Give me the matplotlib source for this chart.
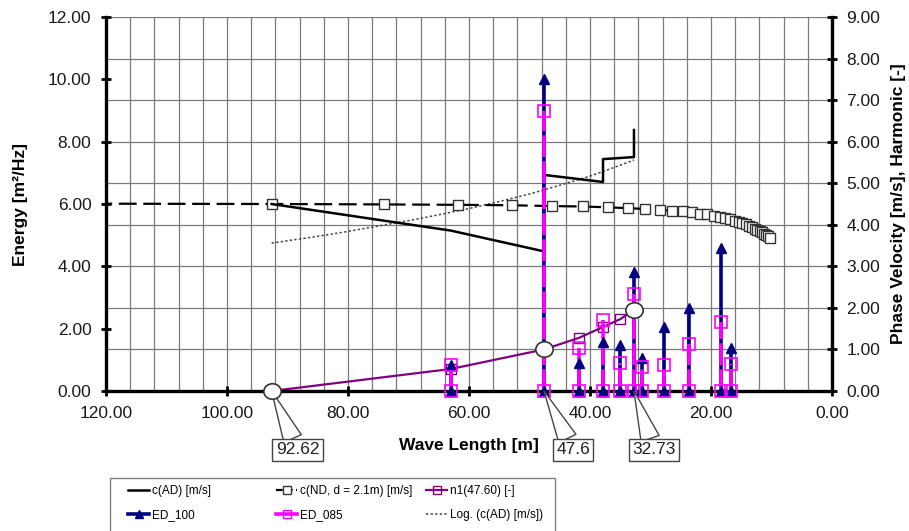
import numpy as np
import matplotlib.pyplot as plt
from matplotlib import font_manager
from matplotlib.path import Path
from matplotlib.transforms import Affine2D
from matplotlib.ticker import MultipleLocator, FormatStrFormatter
from matplotlib.lines import Line2D
from matplotlib.patches import Rectangle

plt.rcParams['font.family'] = ['Liberation Sans', 'DejaVu Sans']

# c(ND, d = 2.1m) [m/s] - right axis
L_nd = [130.0, 92.62, 74.10, 61.75, 52.93, 46.31, 41.17, 37.05, 33.68, 30.88, 28.50,
        26.46, 24.70, 23.16, 21.79, 20.58, 19.50, 18.53, 17.64, 16.84, 16.11, 15.44,
        14.82, 14.25, 13.72, 13.23, 12.78, 12.35, 11.95, 11.58, 11.23, 10.90, 10.59, 10.29]
c_nd = [4.51, 4.50, 4.49, 4.48, 4.47, 4.45, 4.44, 4.42, 4.40, 4.38, 4.36,
        4.34, 4.32, 4.30, 4.27, 4.25, 4.22, 4.19, 4.16, 4.13, 4.10, 4.07,
        4.04, 4.01, 3.98, 3.94, 3.91, 3.88, 3.85, 3.82, 3.78, 3.75, 3.72, 3.69]

# c(AD) [m/s] - right axis
L_ad = [92.62, 63.0, 47.6, 47.6, 37.85, 37.85, 32.73, 32.73]
c_ad = [4.50, 3.86, 3.36, 5.20, 5.03, 5.58, 5.63, 6.28]

# Log. (c(AD)) trend line - right axis
L_log = [92.62, 86.0, 80.0, 75.0, 70.0, 65.0, 60.0, 55.0, 50.0, 45.0, 40.0, 36.0, 32.73]
c_log = [3.56, 3.70, 3.84, 3.97, 4.10, 4.24, 4.39, 4.56, 4.74, 4.95, 5.17, 5.38, 5.56]

# n1(47.60) [-] - right axis
L_n1 = [92.62, 63.0, 47.6, 41.8, 37.85, 35.0, 32.73]
n1 = [0.0, 0.53, 1.0, 1.28, 1.54, 1.73, 1.95]
circ_idx = [0, 2, 6]
circ_labels = ['92.62', '47.6', '32.73']

# energy density spectra - left axis
L_ed = [63.0, 47.6, 41.8, 37.85, 35.0, 32.73, 31.4, 27.8, 23.6, 18.3, 16.7]
ed_100 = [0.85, 10.0, 0.90, 1.57, 1.47, 3.82, 1.06, 2.05, 2.66, 4.59, 1.38]
ed_085 = [0.84, 9.0, 1.38, 2.28, 0.90, 3.11, 0.77, 0.83, 1.51, 2.21, 0.87]

navy = '#000080'
mag = '#ff00ff'
purp = '#800080'
fs = 12.5

fig = plt.figure(figsize=(9.09, 5.31), dpi=100)
ax = fig.add_axes([106 / 909, 1 - 391 / 531, 726 / 909, 374 / 531])
ax2 = ax.twinx()
ax.set_zorder(2)
ax.patch.set_visible(False)
ax2.set_zorder(1)

ax.set_xlim(120, 0)
ax.xaxis.set_major_locator(MultipleLocator(20))
ax.xaxis.set_minor_locator(MultipleLocator(4))
ax.xaxis.set_major_formatter(FormatStrFormatter('%.2f'))

# grid lives on the lower axes
ax2.xaxis.set_visible(True)
ax2.tick_params(axis='x', which='both', bottom=False, top=False, labelbottom=False, labeltop=False)
ax2.grid(axis='x', which='both', color='#7a7a7a', lw=0.9)
ax2.grid(axis='y', which='major', color='#7a7a7a', lw=0.9)

# right axis series
ax2.plot(L_log, c_log, color='#444444', lw=1.1, ls=(0, (1.5, 1.5)), zorder=2)
ax2.plot(L_nd, c_nd, color='black', lw=1.6, dashes=(8, 3), marker='s', ms=7,
         mfc='white', mec='#333333', mew=1.0, zorder=3)
ax2.plot(L_ad, c_ad, color='black', lw=1.8, zorder=4)
ax2.plot(L_n1, n1, color=purp, lw=1.6, marker='s', ms=7, mfc='none', mec=purp,
         mew=1.0, zorder=5)
ax2.set_ylim(0, 9)
ax2.yaxis.set_major_locator(MultipleLocator(1))
ax2.yaxis.set_major_formatter(FormatStrFormatter('%.2f'))

# stems on the left axis
zeros = np.zeros(len(L_ed))
ax.vlines(L_ed, 0, ed_100, color=navy, lw=2.6, zorder=3)
ax.vlines(L_ed, 0, ed_085, color=mag, lw=2.6, linestyles=[(0, (6, 1.2))], zorder=4)
ax.plot(L_ed, ed_100, ls='none', marker='^', ms=7, color=navy, zorder=5, clip_on=False)
ax.plot(L_ed, zeros, ls='none', marker='^', ms=7, color=navy, zorder=5, clip_on=False)
ax.plot(L_ed, ed_085, ls='none', marker='s', ms=8, mfc='none', mec=mag, mew=1.2,
        zorder=6, clip_on=False)
ax.plot(L_ed, zeros, ls='none', marker='s', ms=8, mfc='none', mec=mag, mew=1.2,
        zorder=6, clip_on=False)

# callouts
offs = [(26, -59), (29, -59), (20, -59)]
for i, lab, off in zip(circ_idx, circ_labels, offs):
    ax.annotate(lab, xy=(L_n1[i], 0), xytext=off, textcoords='offset pixels',
                ha='center', va='center', fontsize=fs, color='#222222', zorder=6,
                bbox=dict(boxstyle='square,pad=0.2', fc='white', ec='#444444', lw=1),
                arrowprops=dict(arrowstyle='wedge,tail_width=1.1', fc='white',
                                ec='#444444', lw=1, shrinkA=0, shrinkB=0),
                annotation_clip=False)

ell = Path.unit_circle().transformed(Affine2D().scale(1.12, 1.0))
ax.plot([L_n1[i] for i in circ_idx], [n1[i] for i in circ_idx], transform=ax2.transData,
        ls='none', marker=ell, ms=12.5, mfc='white', mec='#333333', mew=1.2,
        zorder=8, clip_on=False)

ax.set_ylim(0, 12)
ax.yaxis.set_major_locator(MultipleLocator(2))
ax.yaxis.set_major_formatter(FormatStrFormatter('%.2f'))

# spines and ticks
for s in ['top', 'right']:
    ax.spines[s].set_visible(False)
for s in ['top', 'left', 'bottom']:
    ax2.spines[s].set_visible(False)
ax.spines['left'].set_linewidth(2.4)
ax.spines['bottom'].set_linewidth(2.4)
ax2.spines['right'].set_linewidth(2.4)
ax.tick_params(axis='both', which='major', direction='inout', length=7, width=2,
               labelsize=fs, pad=7, labelcolor='#1a1a1a')
ax.tick_params(axis='x', which='minor', length=0)
ax2.tick_params(axis='y', which='major', direction='inout', length=7, width=2,
                labelsize=fs, pad=7, labelcolor='#1a1a1a')

ax.set_xlabel('Wave Length [m]', fontsize=fs, fontweight='bold')
ax.xaxis.set_label_coords(0.5, -0.126)
ax.set_ylabel('Energy [m²/Hz]', fontsize=fs, fontweight='bold')
ax.yaxis.set_label_coords(-0.107, 0.5)
ax2.set_ylabel('Phase Velocity [m/s], Harmonic [-]', fontsize=fs, fontweight='bold')
ax2.yaxis.set_label_coords(1.081, 0.5)

# legend: frame + three columns
fig.patches.append(Rectangle((110 / 909, 1 - 560 / 531), 445 / 909, 82 / 531,
                             transform=fig.transFigure, fill=False, ec='#808080', lw=1))
installed = {f.name for f in font_manager.fontManager.ttflist}
if 'Liberation Sans Narrow' in installed:
    leg_prop = {'family': 'Liberation Sans Narrow', 'size': 9.5}
else:
    leg_prop = {'family': 'Liberation Sans', 'size': 8.5}
h_ad = Line2D([], [], color='black', lw=1.8)
h_nd = Line2D([], [], color='black', lw=1.6, dashes=(3, 1.5), marker='s', ms=6,
              mfc='white', mec='#333333')
h_n1 = Line2D([], [], color=purp, lw=1.6, marker='s', ms=6, mfc='none', mec=purp)
h_100 = Line2D([], [], color=navy, lw=2.6, marker='^', ms=6)
h_085 = Line2D([], [], color=mag, lw=2.6, marker='s', ms=6, mfc='none', mec=mag)
h_log = Line2D([], [], color='#444444', lw=1.1, ls=(0, (1.5, 1.5)))
cols = [([h_ad, h_100], ['c(AD) [m/s]', 'ED_100'], 128),
        ([h_nd, h_085], ['c(ND, d = 2.1m) [m/s]', 'ED_085'], 276),
        ([h_n1, h_log], ['n1(47.60) [-]', 'Log. (c(AD) [m/s])'], 426)]
for hs, ls_, x0 in cols:
    fig.legend(hs, ls_, loc='upper left', bbox_to_anchor=(x0 / 909, 1 - 485 / 531),
               frameon=False, borderpad=0, borderaxespad=0, handlelength=1.8,
               handletextpad=0.25, labelspacing=1.05, prop=leg_prop)

fig.savefig('out.png', dpi=100)
